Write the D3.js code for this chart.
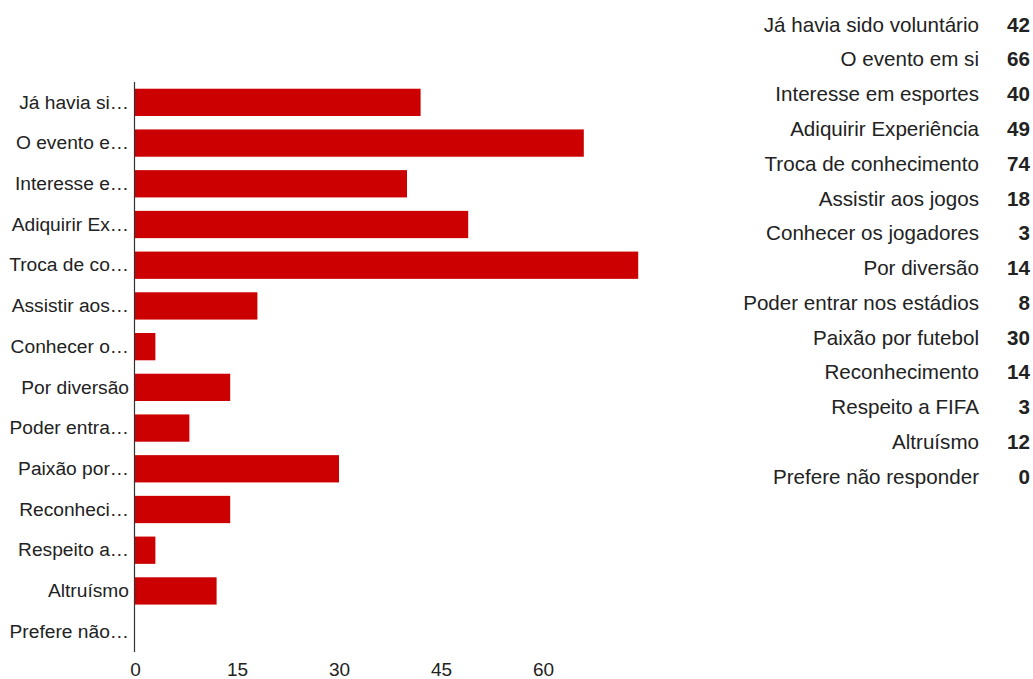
<!DOCTYPE html>
<html>
<head>
<meta charset="utf-8">
<script src="https://cdn.jsdelivr.net/npm/d3@7"></script>
<style>
  html, body { margin: 0; padding: 0; background: #fff; }
  svg { display: block; font-family: "Liberation Sans", Arial, sans-serif; }
</style>
</head>
<body>
<svg id="chart" width="1033" height="679"></svg>
<script>
// Motivos para ser voluntário: respostas por motivo
const categories = [
  "Já havia sido voluntário",
  "O evento em si",
  "Interesse em esportes",
  "Adiquirir Experiência",
  "Troca de conhecimento",
  "Assistir aos jogos",
  "Conhecer os jogadores",
  "Por diversão",
  "Poder entrar nos estádios",
  "Paixão por futebol",
  "Reconhecimento",
  "Respeito a FIFA",
  "Altruísmo",
  "Prefere não responder"
];
// Axis labels as shown beside the bars (shortened to fit)
const axisLabels = [
  "Já havia si…",
  "O evento e…",
  "Interesse e…",
  "Adiquirir Ex…",
  "Troca de co…",
  "Assistir aos…",
  "Conhecer o…",
  "Por diversão",
  "Poder entra…",
  "Paixão por…",
  "Reconheci…",
  "Respeito a…",
  "Altruísmo",
  "Prefere não…"
];
const values = [42, 66, 40, 49, 74, 18, 3, 14, 8, 30, 14, 3, 12, 0];
const xTicks = [0, 15, 30, 45, 60];

const svg = d3.select("#chart");
const textColor = "#222";
const barColor = "#cc0000";
const fontFamily = "'Liberation Sans', Arial, sans-serif";

const x = d3.scaleLinear().domain([0, d3.max(values)]).range([135, 638.2]);
const y = d3.scaleBand().domain(categories).range([82, 652])
  .paddingInner(0.33).paddingOuter(0.165);

// Bars
svg.append("g").selectAll("rect")
  .data(categories)
  .join("rect")
  .attr("x", x(0))
  .attr("y", d => y(d))
  .attr("width", (d, i) => x(values[i]) - x(0))
  .attr("height", y.bandwidth())
  .attr("fill", barColor);

// Category axis
const yAxis = svg.append("g")
  .attr("transform", `translate(${x(0)},0)`)
  .call(d3.axisLeft(y).tickSize(0).tickPadding(6)
    .tickFormat((d, i) => axisLabels[i]));
yAxis.select(".domain").remove();
yAxis.selectAll("text")
  .attr("fill", textColor)
  .style("font-size", "19.2px")
  .style("font-family", fontFamily);

svg.append("line")
  .attr("x1", x(0) - 0.5).attr("x2", x(0) - 0.5)
  .attr("y1", 82).attr("y2", 652)
  .attr("stroke", "#333").attr("stroke-width", 1.2);

// Value axis
const xAxis = svg.append("g")
  .attr("transform", "translate(0,676)")
  .call(d3.axisBottom(x).tickValues(xTicks).tickSize(0).tickPadding(0));
xAxis.select(".domain").remove();
xAxis.selectAll("text")
  .attr("dy", null)
  .attr("y", 0)
  .attr("fill", textColor)
  .style("font-size", "19px")
  .style("font-family", fontFamily);

// Table of full labels and counts
const rowY = d3.scaleBand().domain(categories).range([7, 494]);
const table = svg.append("g");
table.selectAll("text.label")
  .data(categories)
  .join("text")
  .attr("class", "label")
  .attr("x", 979)
  .attr("y", d => rowY(d) + rowY.bandwidth() / 2)
  .attr("dy", "0.35em")
  .attr("text-anchor", "end")
  .attr("fill", textColor)
  .style("font-size", "20.6px")
  .text(d => d);
table.selectAll("text.value")
  .data(categories)
  .join("text")
  .attr("class", "value")
  .attr("x", 1030)
  .attr("y", d => rowY(d) + rowY.bandwidth() / 2)
  .attr("dy", "0.35em")
  .attr("text-anchor", "end")
  .attr("fill", textColor)
  .style("font-size", "20.6px")
  .style("font-weight", "bold")
  .text((d, i) => values[i]);
</script>
</body>
</html>
